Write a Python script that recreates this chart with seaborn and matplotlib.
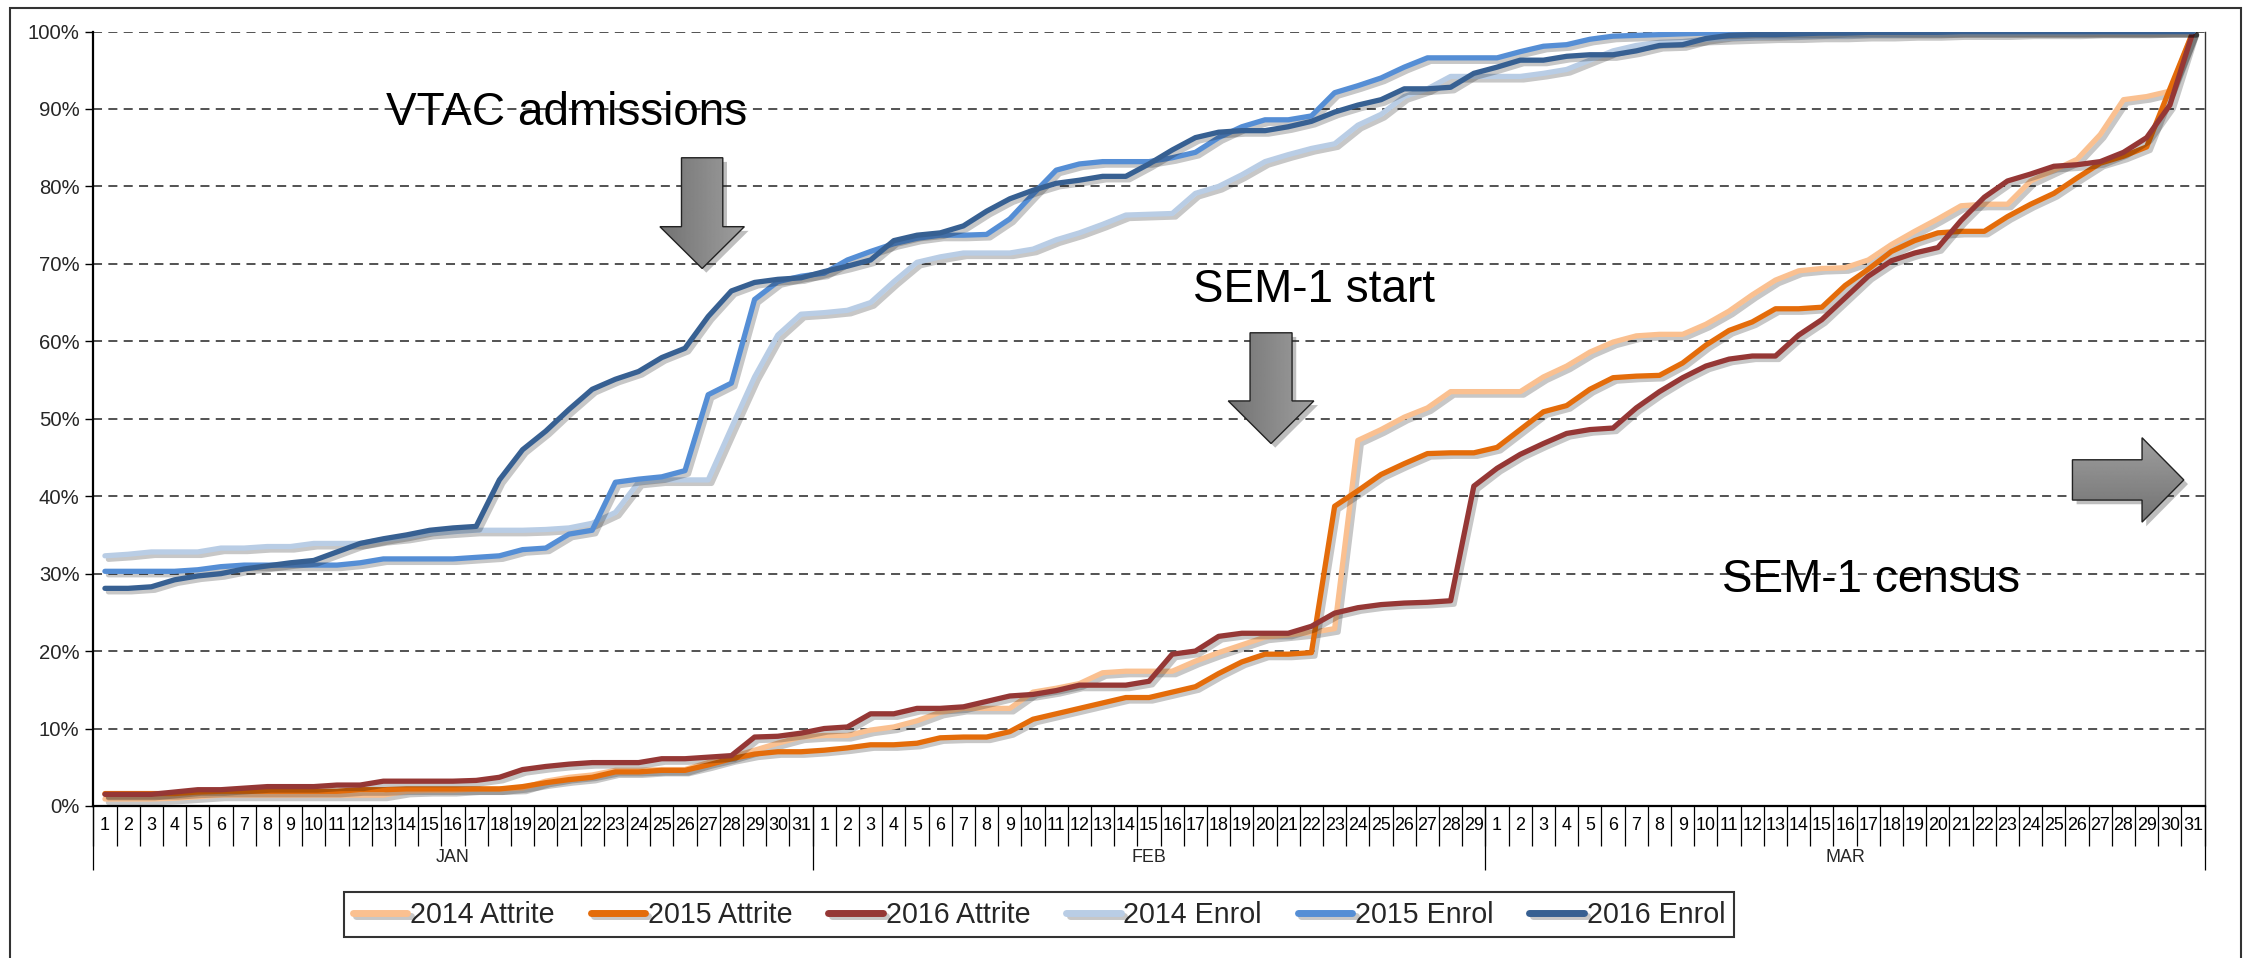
import matplotlib
matplotlib.use("Agg")
import matplotlib.pyplot as plt
import matplotlib.patheffects as pe
import numpy as np
import pandas as pd
import seaborn as sns
from matplotlib import font_manager
from matplotlib.patches import Polygon, Rectangle
from matplotlib.ticker import FuncFormatter

# ---- data (cumulative %, one value per day, Jan 1 .. Mar 31) ----
months = ["JAN", "FEB", "MAR"]
month_days = [31, 29, 31]

series_names = ["2014 Attrite", "2015 Attrite", "2016 Attrite",
                "2014 Enrol", "2015 Enrol", "2016 Enrol"]
colors = ["#FAC090", "#E46C0A", "#953735", "#B9CDE5", "#558ED5", "#376092"]

attrite_2014 = [
    0.9, 0.9, 0.9, 1.0, 1.2, 1.4, 1.4, 1.4, 1.4, 1.4, 1.4, 1.4, 1.4, 1.9, 2.0, 2.0,
    2.2, 2.2, 2.3, 3.2, 3.7, 4.0, 4.6, 4.6, 4.7, 4.7, 5.6, 6.3, 7.2, 8.1, 8.9,
    9.1, 9.1, 9.8, 10.2, 11.0, 12.1, 12.6, 12.6, 12.6, 14.7, 15.2, 15.8, 17.2, 17.4,
    17.4, 17.4, 18.7, 19.8, 20.8, 21.8, 22.1, 22.4, 22.9, 47.2, 48.6, 50.2, 51.4, 53.5, 53.5,
    53.5, 53.5, 55.4, 56.8, 58.6, 59.9, 60.7, 60.9, 60.9, 62.2, 63.9, 66.0, 67.9, 69.1, 69.4,
    69.5, 70.5, 72.5, 74.2, 75.8, 77.5, 77.7, 77.7, 80.7, 82.1, 83.5, 86.7, 91.2, 91.6, 92.3, 100.0,
]
attrite_2015 = [
    1.6, 1.6, 1.6, 1.6, 1.8, 1.9, 1.9, 1.9, 1.9, 1.9, 1.9, 2.1, 2.1, 2.2, 2.2, 2.2,
    2.2, 2.2, 2.5, 3.0, 3.4, 3.7, 4.4, 4.4, 4.6, 4.6, 5.3, 6.1, 6.7, 7.0, 7.0,
    7.2, 7.5, 7.9, 7.9, 8.1, 8.8, 8.9, 8.9, 9.6, 11.2, 11.9, 12.6, 13.3, 14.0, 14.0,
    14.7, 15.4, 17.1, 18.6, 19.6, 19.6, 19.8, 38.7, 40.7, 42.8, 44.2, 45.5, 45.6, 45.6,
    46.3, 48.6, 50.9, 51.7, 53.8, 55.3, 55.5, 55.6, 57.2, 59.5, 61.4, 62.5, 64.2, 64.2, 64.4,
    67.2, 69.3, 71.6, 73.0, 74.0, 74.2, 74.2, 76.1, 77.7, 79.1, 81.1, 83.0, 83.9, 85.1, 92.6, 100.0,
]
attrite_2016 = [
    1.5, 1.5, 1.5, 1.8, 2.1, 2.1, 2.3, 2.5, 2.5, 2.5, 2.7, 2.7, 3.2, 3.2, 3.2, 3.2,
    3.3, 3.7, 4.7, 5.1, 5.4, 5.6, 5.6, 5.6, 6.1, 6.1, 6.3, 6.5, 8.9, 9.0, 9.4,
    10.0, 10.2, 11.9, 11.9, 12.6, 12.6, 12.8, 13.5, 14.2, 14.4, 14.9, 15.6, 15.6, 15.6, 16.1,
    19.6, 20.0, 21.9, 22.3, 22.3, 22.3, 23.2, 24.9, 25.6, 26.0, 26.2, 26.3, 26.5, 41.3,
    43.6, 45.4, 46.8, 48.1, 48.6, 48.8, 51.4, 53.5, 55.3, 56.8, 57.7, 58.1, 58.1, 60.8, 62.8,
    65.6, 68.4, 70.4, 71.4, 72.1, 75.6, 78.6, 80.7, 81.6, 82.6, 82.8, 83.2, 84.4, 86.3, 90.5, 100.0,
]
enrol_2014 = [
    32.3, 32.5, 32.8, 32.8, 32.8, 33.3, 33.3, 33.5, 33.5, 33.9, 33.9, 33.9, 34.4, 34.7, 35.2, 35.4,
    35.6, 35.6, 35.6, 35.7, 35.9, 36.5, 37.9, 41.8, 42.1, 42.1, 42.1, 48.8, 55.4, 60.8, 63.5,
    63.7, 64.0, 65.0, 67.7, 70.2, 70.9, 71.4, 71.4, 71.4, 71.9, 73.1, 74.0, 75.1, 76.3, 76.4,
    76.5, 79.1, 80.0, 81.5, 83.2, 84.1, 84.9, 85.5, 87.9, 89.3, 91.6, 92.6, 94.2, 94.2,
    94.2, 94.2, 94.6, 95.1, 96.3, 97.5, 98.2, 98.6, 98.7, 99.0, 99.1, 99.2, 99.3, 99.3, 99.4,
    99.4, 99.5, 99.5, 99.6, 99.6, 99.7, 99.7, 99.7, 99.8, 99.8, 99.8, 99.9, 99.9, 99.9, 100.0, 100.0,
]
enrol_2015 = [
    30.3, 30.3, 30.3, 30.3, 30.5, 30.9, 31.1, 31.1, 31.1, 31.1, 31.1, 31.4, 31.9, 31.9, 31.9, 31.9,
    32.1, 32.3, 33.1, 33.3, 35.1, 35.6, 41.8, 42.2, 42.5, 43.3, 53.1, 54.6, 65.4, 67.7, 68.4,
    68.8, 70.5, 71.6, 72.6, 73.3, 73.7, 73.7, 73.8, 75.8, 79.0, 82.1, 82.9, 83.2, 83.2, 83.2,
    83.7, 84.4, 86.3, 87.7, 88.6, 88.6, 89.1, 92.1, 93.0, 94.0, 95.4, 96.6, 96.6, 96.6,
    96.6, 97.4, 98.1, 98.3, 99.0, 99.4, 99.5, 99.6, 99.7, 99.8, 99.8, 99.9, 99.9, 99.9, 99.9,
    100.0, 100.0, 100.0, 100.0, 100.0, 100.0, 100.0, 100.0, 100.0, 100.0, 100.0, 100.0, 100.0, 100.0, 100.0, 100.0,
]
enrol_2016 = [
    28.1, 28.1, 28.3, 29.2, 29.7, 30.0, 30.6, 31.0, 31.4, 31.7, 32.8, 33.9, 34.5, 35.0, 35.6, 35.9,
    36.1, 42.1, 46.0, 48.4, 51.2, 53.8, 55.1, 56.1, 57.9, 59.1, 63.2, 66.5, 67.6, 68.0, 68.2,
    69.0, 69.7, 70.5, 73.0, 73.7, 74.0, 74.9, 76.8, 78.4, 79.5, 80.4, 80.8, 81.3, 81.3, 82.9,
    84.7, 86.3, 87.0, 87.2, 87.2, 87.7, 88.4, 89.6, 90.5, 91.2, 92.6, 92.6, 92.8, 94.6,
    95.4, 96.3, 96.3, 96.8, 97.0, 97.0, 97.5, 98.2, 98.3, 99.1, 99.5, 99.6, 99.6, 99.7, 99.8,
    99.8, 99.9, 99.9, 99.9, 99.9, 100.0, 100.0, 100.0, 100.0, 100.0, 100.0, 100.0, 100.0, 100.0, 100.0, 100.0,
]
values = [attrite_2014, attrite_2015, attrite_2016, enrol_2014, enrol_2015, enrol_2016]

days = [d for n in month_days for d in range(1, n + 1)]
idx = np.arange(len(days))

df = pd.DataFrame({
    "day_idx": np.tile(idx, len(series_names)),
    "share": np.concatenate(values),
    "series": np.repeat(series_names, len(days)),
})

# ---- style ----
sns.set_theme(style="white")
names = {f.name for f in font_manager.fontManager.ttflist}
if "Liberation Sans Narrow" in names:
    NARROW, k = "Liberation Sans Narrow", 1.0
else:
    NARROW, k = "Liberation Sans", 0.86
plt.rcParams["font.family"] = ["Liberation Sans", "DejaVu Sans"]

fig = plt.figure(figsize=(22.49, 9.58), dpi=100)
ax = fig.add_axes([0.0415, 0.1587, 0.9388, 0.8084])

sns.lineplot(data=df, x="day_idx", y="share", hue="series", hue_order=series_names,
             palette=colors, linewidth=3.8, errorbar=None, ax=ax)
for line in ax.lines:
    line.set_path_effects([pe.SimpleLineShadow(offset=(2.5, -2.5), shadow_color="black", alpha=0.22),
                           pe.Normal()])
handles, labels = ax.get_legend_handles_labels()
ax.get_legend().remove()

ax.set_xlabel("")
ax.set_ylabel("")

# day ticks + separators
ax.set_xticks(idx)
ax.set_xticklabels(days, family=NARROW, fontsize=15 * k)
ax.set_xticks(np.arange(-0.5, len(days), 1), minor=True)
ax.tick_params(axis="x", which="major", bottom=True, length=0, pad=8, colors="black")
ax.tick_params(axis="x", which="minor", bottom=True, length=29, width=0.9, color="black")

# month separators and labels
bounds = np.concatenate([[0], np.cumsum(month_days)]) - 0.5
centers = bounds[:-1] + np.array(month_days) / 2
sec = ax.secondary_xaxis("bottom")
sec.set_xticks(bounds, labels=[""] * len(bounds))
sec.set_xticks(centers, labels=months, minor=True)
sec.tick_params(which="major", bottom=True, length=46, width=0.9, color="black")
sec.tick_params(which="minor", bottom=True, length=0, pad=31, labelsize=15 * k)
for lab in sec.get_xticklabels(minor=True):
    lab.set_family(NARROW)
sec.spines["bottom"].set_visible(False)

# y axis
ax.set_yticks(np.arange(0, 101, 10))
ax.yaxis.set_major_formatter(FuncFormatter(lambda v, p: f"{v:.0f}%"))
ax.tick_params(axis="y", left=True, length=6, width=1, color="black", pad=4, labelsize=17 * k)
for lab in ax.get_yticklabels():
    lab.set_family(NARROW)
ax.grid(axis="y", linestyle=(0, (5, 3.5)), color="#444444", linewidth=1.3)
ax.grid(axis="x", visible=False)
ax.set_axisbelow(True)

ax.spines["top"].set_visible(False)
for s in ["left", "bottom"]:
    ax.spines[s].set_color("black")
    ax.spines[s].set_linewidth(1.6)
ax.spines["right"].set_color("#333333")
ax.spines["right"].set_linewidth(1.0)

# ---- annotations ----
ann_font = 33
ax.text(19.9, 87.9, "VTAC admissions", ha="center", va="baseline", fontsize=ann_font, color="black")
ax.text(52.1, 65.1, "SEM-1 start", ha="center", va="baseline", fontsize=ann_font, color="black")
ax.text(76.1, 27.6, "SEM-1 census", ha="center", va="baseline", fontsize=ann_font, color="black")


def down_arrow(cx, top, neck, tip, shaft_w, head_w):
    return [(cx - shaft_w / 2, top), (cx + shaft_w / 2, top), (cx + shaft_w / 2, neck),
            (cx + head_w / 2, neck), (cx, tip), (cx - head_w / 2, neck), (cx - shaft_w / 2, neck)]


def right_arrow(x0, neck, tip, cy, shaft_h, head_h):
    return [(x0, cy + shaft_h / 2), (neck, cy + shaft_h / 2), (neck, cy + head_h / 2), (tip, cy),
            (neck, cy - head_h / 2), (neck, cy - shaft_h / 2), (x0, cy - shaft_h / 2)]


arrow_shapes = [
    (down_arrow(25.74, 83.7, 74.8, 69.4, 1.78, 3.64), "h"),
    (down_arrow(50.26, 61.1, 52.3, 46.8, 1.81, 3.69), "h"),
    (right_arrow(84.8, 87.8, 89.6, 42.1, 5.2, 10.9), "v"),
]
grad = np.linspace(0.45, 0.62, 64)
for pts, direction in arrow_shapes:
    pts = np.array(pts)
    poly = Polygon(pts, closed=True, facecolor="none", edgecolor="#222222", linewidth=1.0, zorder=6)
    shadow = Polygon(pts, closed=True, facecolor="#8c8c8c", edgecolor="none", zorder=4)
    shadow.set_path_effects([pe.SimplePatchShadow(offset=(3, -3), alpha=0.3)])
    ax.add_patch(shadow)
    ax.add_patch(poly)
    img = grad[None, :] if direction == "h" else grad[:, None]
    im = ax.imshow(img, cmap="gray", vmin=0, vmax=1, aspect="auto", zorder=5,
                   extent=(pts[:, 0].min(), pts[:, 0].max(), pts[:, 1].min(), pts[:, 1].max()),
                   origin="lower", interpolation="bilinear")
    im.set_clip_path(poly)

ax.set_xlim(-0.5, len(days) - 0.5)
ax.set_ylim(0, 100)

# ---- legend ----
leg = fig.legend(handles, labels, loc="center", bbox_to_anchor=(0.462, 0.045), ncol=6,
                 frameon=True, fancybox=False, edgecolor="black",
                 prop={"family": NARROW, "size": 24 * k},
                 handlelength=1.9, handletextpad=0.1, columnspacing=1.25, borderpad=0.3)
leg.get_frame().set_linewidth(1.5)
for h in leg.get_lines():
    h.set_linewidth(5)

# outer chart frame
fig.patches.append(Rectangle((0.0045, -0.02), 0.992, 1.012, transform=fig.transFigure,
                             fill=False, edgecolor="#333333", linewidth=1.5))

fig.savefig("out.png", dpi=100)
